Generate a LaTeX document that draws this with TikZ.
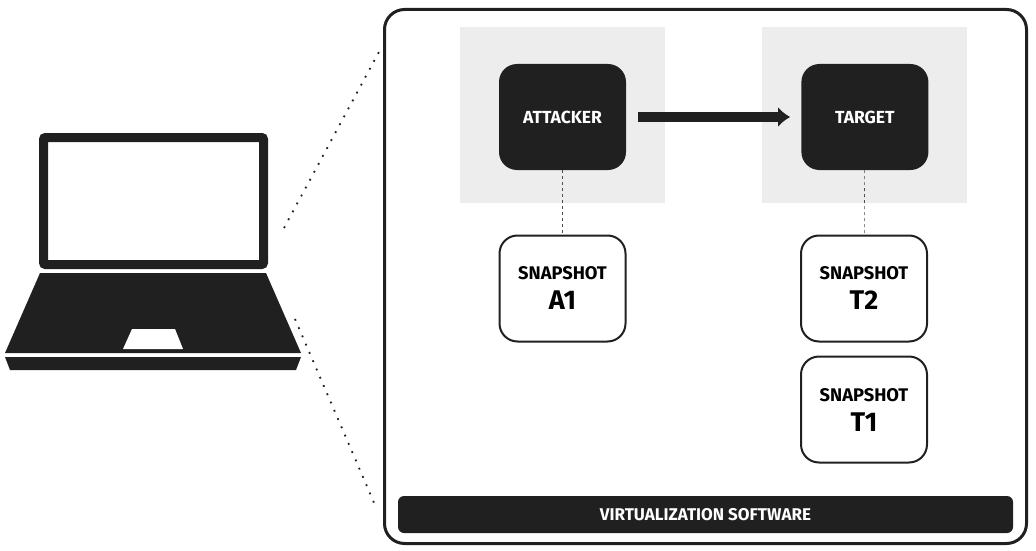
\documentclass[tikz,border=0pt]{standalone}
\usepackage{fontspec}
\setmainfont{Fira Sans}
\usetikzlibrary{arrows.meta,positioning}
\definecolor{inkdark}{HTML}{202020}
\definecolor{shade}{HTML}{EDEDED}

\begin{document}
\begin{tikzpicture}[
    x=1pt, y=-1pt,
    node distance=13pt and 175pt,
    frame/.style={draw=inkdark, line width=3pt, rounded corners=20pt, minimum width=642pt, minimum height=534pt},
    greybox/.style={fill=shade, minimum width=205pt, minimum height=176pt},
    vm/.style={fill=inkdark, text=white, rounded corners=18pt, align=center, minimum width=127pt, minimum height=106pt, font=\bfseries\fontsize{17.5}{20}\selectfont},
    snapbox/.style={draw=inkdark, line width=2pt, fill=white, rounded corners=18pt, align=center, minimum width=126pt, minimum height=106pt, font=\bfseries\fontsize{18.3}{27}\selectfont},
    bar/.style={fill=inkdark, text=white, rounded corners=6pt, minimum width=615pt, minimum height=37pt, font=\bfseries\fontsize{17}{20}\selectfont},
    screen/.style={draw=inkdark, line width=9pt, rounded corners=2pt, fill=white, minimum width=220pt, minimum height=127pt},
    laptopdark/.style={fill=inkdark},
    pointer/.style={line width=9.5pt, draw=inkdark, -{Latex[length=12pt,width=20pt]}},
    tether/.style={draw=inkdark!80, dashed, line width=0.6pt},
    zoomline/.style={draw=inkdark, line width=1.8pt, dash pattern=on 1.8pt off 7.2pt}
]
    \useasboundingbox (0,0) rectangle (1036,551);

    % laptop
    \node[screen] (screen) at (153.5,201) {};
    \path[laptopdark] (40,273) -- (266,273) -- (301,353) -- (5,353) -- cycle;
    \path[fill=white] (132,329) -- (175,329) -- (183,349) -- (123,349) -- cycle;
    \path[laptopdark] (5,357) -- (301,357) -- (296,370) -- (10,370) -- cycle;
    \coordinate (lidcorner) at (284,228);
    \coordinate (basecorner) at (295,319);

    % host frame
    \node[frame] (host) at (705.5,276.5) {};
    \coordinate (hosttop) at (380,50);
    \coordinate (hostbottom) at (375,505);

    \node[greybox] (attackerzone) at (562.5,115) {};
    \node[greybox] (targetzone) at (864,115) {};

    \node[vm] (attacker) at (562.5,117) {ATTACKER};
    \node[vm, right=of attacker] (target) {TARGET};

    \node[snapbox] (snapA) at (562.5,288.5) {SNAPSHOT\\[3pt]{\fontsize{27}{27}\selectfont A1}};
    \node[snapbox] (snapTtwo) at (864,288.5) {SNAPSHOT\\[3pt]{\fontsize{27}{27}\selectfont T2}};
    \node[snapbox, below=of snapTtwo] (snapTone) {SNAPSHOT\\[3pt]{\fontsize{27}{27}\selectfont T1}};

    \node[bar] (virt) at (705.5,514.5) {VIRTUALIZATION SOFTWARE};

    \draw[pointer, shorten <=12pt, shorten >=11pt] (attacker) -- (target);
    \draw[tether] (attacker) -- (snapA);
    \draw[tether] (target) -- (snapTtwo);
    \draw[zoomline] (lidcorner) -- (hosttop);
    \draw[zoomline] (basecorner) -- (hostbottom);
\end{tikzpicture}
\end{document}
